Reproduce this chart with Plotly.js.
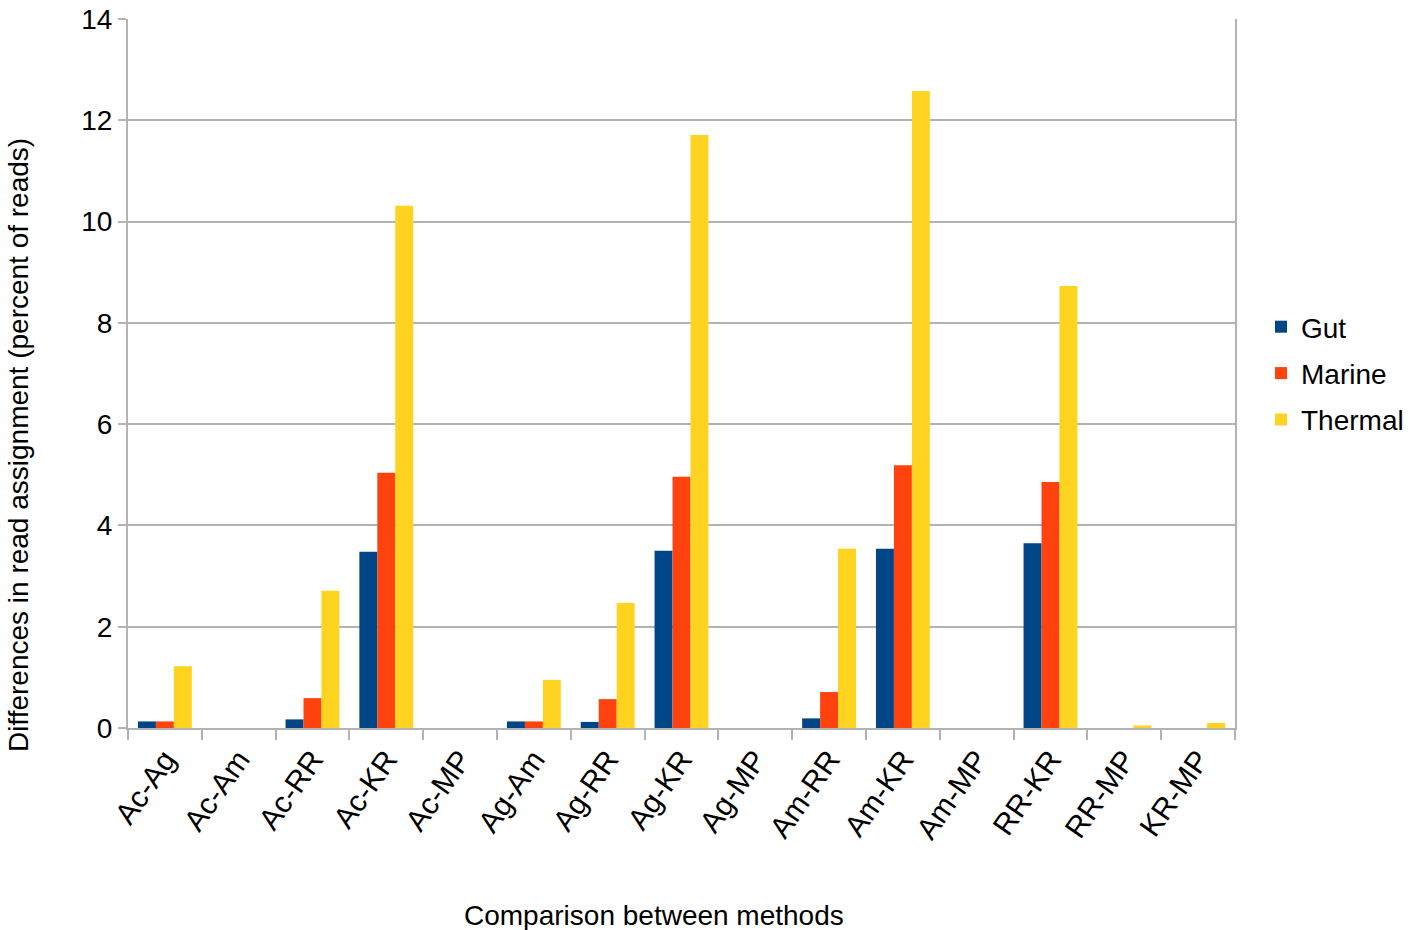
<!DOCTYPE html>
<html>
<head>
<meta charset="utf-8">
<script src="https://cdn.plot.ly/plotly-3.0.1.min.js"></script>
<style>html,body{margin:0;padding:0;background:#fff;}#chart{width:1418px;height:930px;}</style>
</head>
<body>
<div id="chart"></div>
<script>
const categories = ["Ac-Ag","Ac-Am","Ac-RR","Ac-KR","Ac-MP","Ag-Am","Ag-RR","Ag-KR","Ag-MP","Am-RR","Am-KR","Am-MP","RR-KR","RR-MP","KR-MP"];
const gut     = [0.13, 0, 0.17, 3.48, 0, 0.13, 0.12, 3.50, 0, 0.19, 3.54, 0, 3.65, 0, 0];
const marine  = [0.13, 0, 0.59, 5.04, 0, 0.13, 0.57, 4.96, 0, 0.71, 5.19, 0, 4.86, 0, 0];
const thermal = [1.22, 0, 2.71, 10.31, 0, 0.95, 2.47, 11.71, 0, 3.54, 12.58, 0, 8.73, 0.05, 0.10];
const xTitle = "Comparison between methods";
const yTitle = "Differences in read assignment (percent of reads)";

const font = "Liberation Sans, Arial, sans-serif";
const traces = [
  {name:"Gut", legendgroup:"g1", x:categories, y:gut, type:"bar", marker:{color:"#004586"}},
  {name:"Marine", legendgroup:"g2", x:categories, y:marine, type:"bar", marker:{color:"#ff420e"}},
  {name:"Thermal", legendgroup:"g3", x:categories, y:thermal, type:"bar", marker:{color:"#ffd320"}}
];
const layout = {
  width:1418, height:930,
  margin:{l:128, r:183, t:19, b:202, autoexpand:false},
  paper_bgcolor:"#fff", plot_bgcolor:"#fff",
  font:{family:font, color:"#000"},
  barmode:"group", bargap:0.27, bargroupgap:0,
  showlegend:true,
  legend:{x:1.0235, y:0.5, xanchor:"left", yanchor:"middle", font:{size:28, family:font},
          traceorder:"grouped", tracegroupgap:7, itemwidth:30},
  xaxis:{
    type:"category", tickangle:-55, tickfont:{size:30, family:font},
    ticks:"outside", tickson:"boundaries", ticklen:10, tickcolor:"#b3b3b3", tickwidth:2,
    showline:true, linecolor:"#b3b3b3", linewidth:2, showgrid:false
  },
  yaxis:{
    range:[0,14], dtick:2, tickfont:{size:28, family:font},
    ticks:"outside", ticklen:8, tickcolor:"#b3b3b3", tickwidth:2,
    showline:true, mirror:true, linecolor:"#b3b3b3", linewidth:2,
    showgrid:true, gridcolor:"#b3b3b3", gridwidth:2, zeroline:false
  },
  annotations:[
    {text:xTitle, xref:"paper", yref:"paper", x:0.475, y:-0.264, xanchor:"center", yanchor:"middle",
     showarrow:false, font:{size:28, family:font}},
    {text:yTitle, xref:"paper", yref:"paper", x:-0.0994, y:0.399, xanchor:"center", yanchor:"middle",
     textangle:-90, showarrow:false, font:{size:28, family:font}}
  ]
};
Plotly.newPlot("chart", traces, layout, {displayModeBar:false});
</script>
</body>
</html>
